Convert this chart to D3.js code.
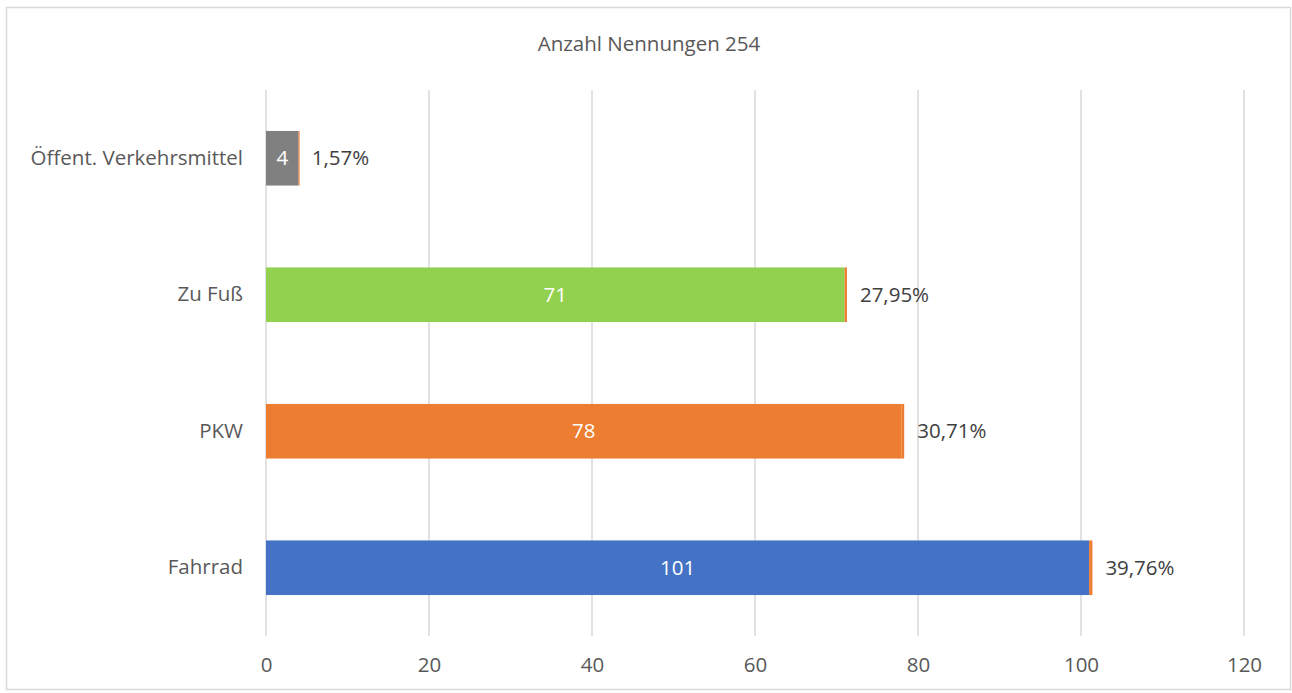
<!DOCTYPE html>
<html>
<head>
<meta charset="utf-8">
<script src="https://cdn.jsdelivr.net/npm/d3@7"></script>
<style>
  body { margin: 0; background: #fff; }
  text { font-family: "Open Sans", "Noto Sans", sans-serif; }
</style>
</head>
<body>
<div class="canvas"></div>
<script>
// data
const categories = ['Öffent. Verkehrsmittel', 'Zu Fuß', 'PKW', 'Fahrrad'];
const counts = [4, 71, 78, 101];
const shares = [0.0157, 0.2795, 0.3071, 0.3976];
const shareLabels = ['1,57%', '27,95%', '30,71%', '39,76%'];
const barColors = ['#808080', '#92D050', '#ED7D31', '#4472C4'];
const xTicks = [0, 20, 40, 60, 80, 100, 120];
const title = 'Anzahl Nennungen 254';

const width = 1292, height = 693;
const fontSize = 20.5;

const svg = d3.select('.canvas')
  .append('svg')
    .attr('width', width)
    .attr('height', height);

// chart border
svg.append('rect')
  .attr('x', 6.5).attr('y', 7.5)
  .attr('width', 1284).attr('height', 682)
  .attr('fill', 'none')
  .attr('stroke', '#d9d9d9')
  .attr('stroke-width', 1.5);

const margin = { top: 90, right: 48, bottom: 57, left: 266 };

const graph = svg.append('g')
  .attr('transform', `translate(${margin.left}, ${margin.top})`);

const x = d3.scaleLinear()
  .domain([0, 120])
  .range([0, 978]);

const y = d3.scaleBand()
  .domain(categories)
  .range([0, 546])
  .paddingInner(0.6)
  .paddingOuter(0.3);

// gridlines
graph.selectAll('line.grid')
  .data(xTicks)
  .enter()
  .append('line')
    .attr('class', 'grid')
    .attr('x1', d => x(d)).attr('x2', d => x(d))
    .attr('y1', 0).attr('y2', 546)
    .attr('stroke', '#d9d9d9')
    .attr('stroke-width', 1.5);

// x axis
const xAxis = d3.axisBottom(x)
  .tickValues(xTicks)
  .tickSize(0)
  .tickPadding(21);
const xAxisGroup = graph.append('g')
  .attr('transform', 'translate(0, 546)')
  .call(xAxis);
xAxisGroup.select('.domain').remove();
xAxisGroup.selectAll('text')
  .attr('font-size', fontSize)
  .attr('fill', '#595959')
  .attr('font-family', '"Open Sans", sans-serif');

// y axis
const yAxis = d3.axisLeft(y)
  .tickSize(0)
  .tickPadding(23);
const yAxisGroup = graph.append('g').call(yAxis);
yAxisGroup.select('.domain').remove();
yAxisGroup.selectAll('text')
  .attr('font-size', fontSize)
  .attr('fill', '#595959')
  .attr('font-family', '"Open Sans", sans-serif');

const rows = categories.map((c, i) => ({
  name: c, count: counts[i], share: shares[i], label: shareLabels[i], color: barColors[i]
}));

// count bars
graph.selectAll('rect.count')
  .data(rows)
  .enter()
  .append('rect')
    .attr('class', 'count')
    .attr('x', x(0))
    .attr('y', d => y(d.name))
    .attr('width', d => x(d.count) - x(0))
    .attr('height', y.bandwidth())
    .attr('fill', d => d.color);

// share series stacked on the end
graph.selectAll('rect.share')
  .data(rows)
  .enter()
  .append('rect')
    .attr('class', 'share')
    .attr('x', d => x(d.count))
    .attr('y', d => y(d.name))
    .attr('width', d => Math.max(1, x(d.count + d.share) - x(d.count)))
    .attr('height', y.bandwidth())
    .attr('fill', '#ED7D31');

// count labels
graph.selectAll('text.count')
  .data(rows)
  .enter()
  .append('text')
    .attr('class', 'count')
    .attr('x', d => x(d.count / 2))
    .attr('y', d => y(d.name) + y.bandwidth() / 2)
    .attr('dy', '0.35em')
    .attr('text-anchor', 'middle')
    .attr('font-size', fontSize)
    .attr('fill', '#fff')
    .text(d => d.count);

// share labels
graph.selectAll('text.share')
  .data(rows)
  .enter()
  .append('text')
    .attr('class', 'share')
    .attr('x', d => x(d.count + d.share) + 13)
    .attr('y', d => y(d.name) + y.bandwidth() / 2)
    .attr('dy', '0.35em')
    .attr('font-size', fontSize)
    .attr('fill', '#404040')
    .text(d => d.label);

// title
svg.append('text')
  .attr('x', 649)
  .attr('y', 51)
  .attr('text-anchor', 'middle')
  .attr('font-size', fontSize)
  .attr('fill', '#595959')
  .text(title);
</script>
</body>
</html>
